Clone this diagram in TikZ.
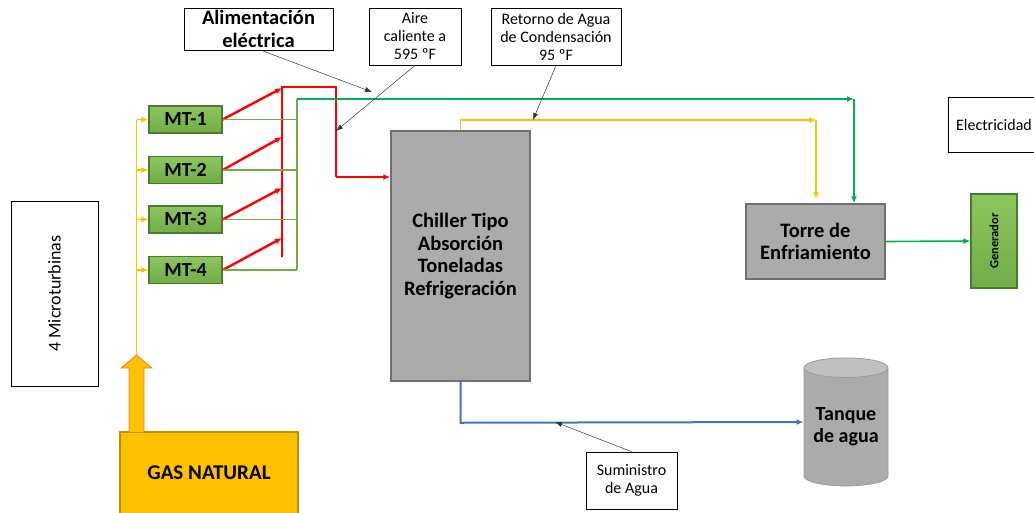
\documentclass[tikz,border=0pt]{standalone}
\usepackage{fontspec}
\setmainfont{Carlito}
\usetikzlibrary{arrows.meta,shapes.geometric,calc}
\definecolor{mtgreen}{HTML}{70AD47}
\definecolor{mtlight}{HTML}{8CC65E}
\definecolor{mtdark}{HTML}{4E7A30}
\definecolor{gasyellow}{HTML}{FFC000}
\definecolor{gasdark}{HTML}{B89000}
\definecolor{boxgray}{HTML}{ABABAB}
\definecolor{boxdark}{HTML}{6F6F6F}
\definecolor{linegreen}{HTML}{00B050}
\definecolor{lineblue}{HTML}{4472C4}
\definecolor{arroworange}{HTML}{ED7D31}
\tikzset{
	txtbox/.style={draw=black,fill=white,align=center,inner sep=0pt,line width=0.8pt,
			font=\fontsize{16}{18}\selectfont},
	mtbox/.style={draw=mtdark,line width=1.2pt,top color=mtlight,bottom color=mtgreen,
			minimum width=73pt,minimum height=27pt,inner sep=0pt,
			font=\fontsize{20}{22}\selectfont\bfseries},
	graybox/.style={draw=boxdark,line width=1.5pt,fill=boxgray,align=center,inner sep=0pt,
			font=\fontsize{20.5}{22.5}\selectfont\bfseries},
	tip/.style={-{Latex[length=7pt,width=6pt]}},
	note/.style={draw=black!80,line width=0.5pt,-{Latex[length=7pt,width=5pt]}},
	redline/.style={draw=red,line width=2.4pt},
	thingreen/.style={draw=mtgreen,line width=1.6pt},
	thickgreen/.style={draw=linegreen,line width=2.6pt},
	yelline/.style={draw=gasyellow,line width=1.8pt},
	blueline/.style={draw=lineblue,line width=2pt}
}

\begin{document}
\begin{tikzpicture}[x=1pt,y=-1pt]
	\useasboundingbox (0,0) rectangle (1034,512);
	% label boxes
	\node[txtbox,minimum width=149pt,minimum height=42pt,font=\fontsize{20.5}{23}\selectfont\bfseries] (alim) at (258.5,29) {Alimentación\\eléctrica};
	\node[txtbox,minimum width=92pt,minimum height=57pt] (aire) at (415,36.5) {Aire\\caliente a\\595 ºF};
	\node[txtbox,minimum width=130pt,minimum height=57pt] (retorno) at (556,36.5) {Retorno de Agua\\de Condensación\\95 ºF};
	\node[txtbox,minimum width=92pt,minimum height=55pt] (elec) at (994,124.5) {Electricidad};
	\node[txtbox,minimum width=87pt,minimum height=185pt,font=\fontsize{18}{20}\selectfont] (micro) at (54.5,293.5) {\rotatebox{90}{4 Microturbinas}};
	\node[txtbox,minimum width=91pt,minimum height=57pt] (sumin) at (631.5,480.5) {Suministro\\de Agua};
	% equipment
	\node[draw=gasdark,line width=1.5pt,fill=gasyellow,minimum width=178pt,minimum height=82pt,
		font=\fontsize{21}{23}\selectfont\bfseries] (gas) at (209,473) {GAS NATURAL};
	\foreach \i/\y in {1/119.5,2/170,3/219.5,4/270}
		\node[mtbox] (mt\i) at (185.5,\y) {MT-\i};
	\node[graybox,minimum width=139pt,minimum height=250pt] (chiller) at (460.5,256) {Chiller Tipo\\Absorción\\Toneladas\\Refrigeración};
	\node[graybox,minimum width=139pt,minimum height=75pt] (torre) at (815.5,241.5) {Torre de\\Enfriamiento};
	\node[draw=mtdark,line width=1.2pt,top color=mtlight,bottom color=mtgreen,minimum width=46pt,minimum height=94pt,
		inner sep=0pt,font=\fontsize{12.5}{14}\selectfont\bfseries] (gen) at (994,241) {\rotatebox{90}{Generador}};
	\node[cylinder,shape border rotate=90,aspect=0.3,draw=boxdark!70,line width=0.8pt,
		cylinder uses custom fill,cylinder body fill=boxgray,cylinder end fill=boxgray!75,
		minimum width=84pt,minimum height=128pt,inner sep=0pt,align=center,
		font=\fontsize{20}{22}\selectfont\bfseries] (tanque) at (846,427) {Tanque\\de agua};
	% natural gas feed
	\coordinate (gtip) at (136.5,355);
	\draw[draw=arroworange,fill=gasyellow,line width=0.8pt]
		(129,432) -- (129,368) -- (121,368) -- (gtip) -- (152,368) -- (144,368) -- (144,432);
	\draw[yelline] (gtip) -- (gtip |- mt1.west);
	\foreach \i in {1,...,4}
		\draw[yelline,tip] (gtip |- mt\i.west) -- (mt\i.west);
	% exhaust gases
	\coordinate (rtop) at (282,87);
	\coordinate (rbot) at (282,257);
	\foreach \i/\r in {1/88,2/137,3/188,4/238}
		\draw[redline,tip] (mt\i.east) -- (282,\r);
	\draw[redline] (rbot) -- (rtop) -- (336,87) -- (336,177);
	\draw[redline,tip] (336,177) -- (chiller.west |- 0,177);
	% electric output
	\coordinate (gbus) at (297,99);
	\foreach \i in {1,...,4}
		\draw[thingreen] (mt\i.east) -- (mt\i.east -| gbus);
	\draw[thingreen] (gbus |- mt4.east) -- (gbus);
	\coordinate (gcorner) at (854,99);
	\draw[thickgreen,tip] (gbus) -- (gcorner);
	\draw[thickgreen,tip] (gcorner) -- (gcorner |- torre.north);
	\draw[linegreen,line width=1.6pt,tip] (torre.east) -- (gen.west);
	% condensation water
	\coordinate (ycorner) at (816,120);
	\draw[yelline,tip] (chiller.north) -- (chiller.north |- ycorner) -- (ycorner);
	\draw[yelline,tip] (ycorner) -- (816,199);
	% water supply
	\draw[blueline,tip] (chiller.south) -- ($(chiller.south)+(0,41)$) -- (tanque.west |- 0,422);
	% notes
	\draw[note] (alim.south) ++(3,0) -- (372,92);
	\draw[note] (aire.south) -- (336,131);
	\draw[note] (retorno.south) -- (533,120);
	\draw[note] (sumin.north) -- (555,422);
\end{tikzpicture}
\end{document}
